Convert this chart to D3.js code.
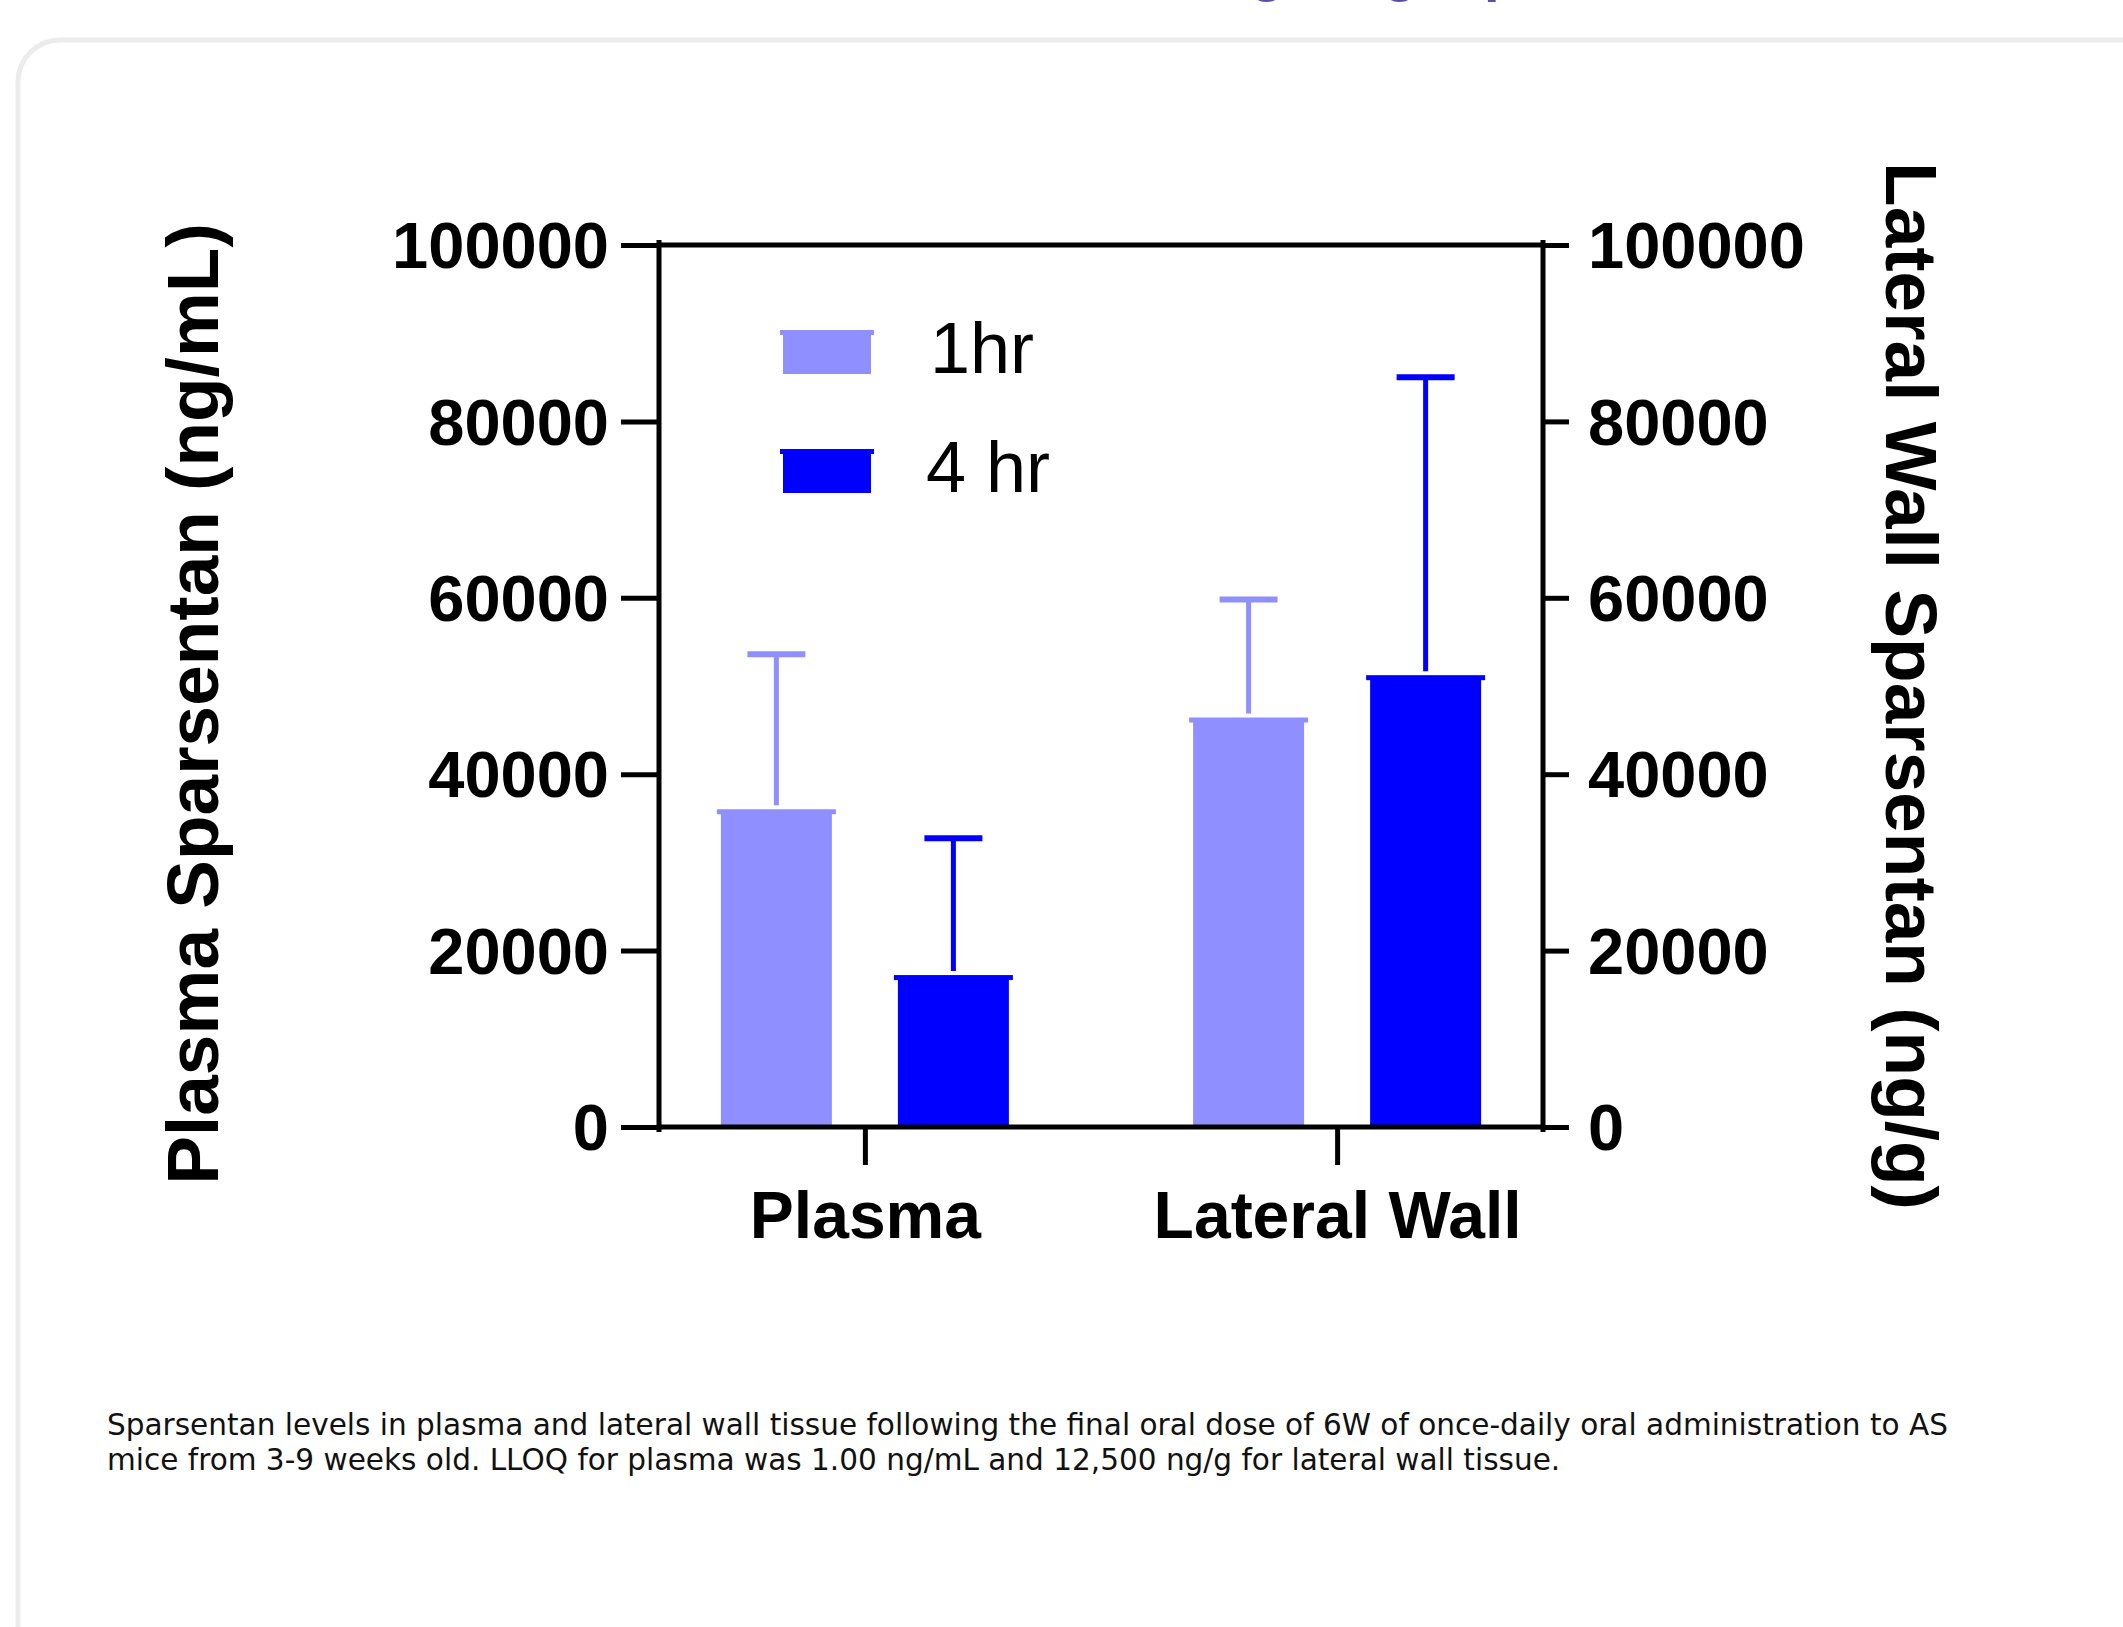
<!DOCTYPE html>
<html>
<head>
<meta charset="utf-8">
<script src="https://cdn.jsdelivr.net/npm/d3@7"></script>
<style>
  html, body { margin: 0; padding: 0; background: #fff; overflow: hidden; }
</style>
</head>
<body>
<div id="main"></div>
<script>
// values
const groups = ["Plasma", "Lateral Wall"];
const series = ["1hr", "4 hr"];
const colors = ["#8f8fff", "#0000ff"];
const mean1hr = [35800, 46200];
const mean4hr = [17000, 51000];
const err1hr = [17800, 13600];
const err4hr = [15750, 34000];
const yTicks = [0, 20000, 40000, 60000, 80000, 100000];
const caption = [
  "Sparsentan levels in plasma and lateral wall tissue following the final oral dose of 6W of once-daily oral administration to AS",
  "mice from 3-9 weeks old. LLOQ for plasma was 1.00 ng/mL and 12,500 ng/g for lateral wall tissue."
];

const ctx = { width: 2123, height: 1627 };
const FONT = "'Liberation Sans', Arial, Helvetica, sans-serif";

function createViz() {
  const svg = d3.select("#main").append("svg")
    .attr("width", ctx.width)
    .attr("height", ctx.height);

  // heading of the page, only its descenders show at the top edge
  const head = svg.append("g")
    .style("font-family", FONT).style("font-weight", "bold")
    .style("font-size", "56px").attr("fill", "#5a4ea6");
  head.append("text").attr("x", 1267).attr("y", -10).attr("text-anchor", "middle").text("g");
  head.append("text").attr("x", 1400).attr("y", -10).attr("text-anchor", "middle").text("g");
  head.append("text").attr("x", 1484).attr("y", -10).text("p");

  // card
  svg.append("rect")
    .attr("x", 18).attr("y", 40)
    .attr("width", 2300).attr("height", 1800)
    .attr("rx", 42)
    .attr("fill", "#fff")
    .attr("stroke", "#ececec")
    .attr("stroke-width", 5);

  const x0 = 659, x1 = 1543;
  const y = d3.scaleLinear().domain([0, 100000]).range([1127, 245]);
  const xg = d3.scalePoint().domain(groups).range([x0, x1]).padding(0.436);
  const xs = d3.scaleBand().domain(series).range([-144, 144]).paddingInner(0.373);

  const table = [];
  groups.forEach((g, i) => {
    table.push({ group: g, s: series[0], v: mean1hr[i], e: err1hr[i], c: colors[0] });
    table.push({ group: g, s: series[1], v: mean4hr[i], e: err4hr[i], c: colors[1] });
  });

  // bars
  const bars = svg.append("g");
  const bw = xs.bandwidth();
  table.forEach(d => {
    const bx = xg(d.group) + xs(d.s);
    bars.append("rect")
      .attr("x", bx).attr("y", y(d.v))
      .attr("width", bw).attr("height", y(0) - y(d.v))
      .attr("fill", d.c);
    bars.append("rect")
      .attr("x", bx - 4).attr("y", y(d.v) - 2)
      .attr("width", bw + 8).attr("height", 5)
      .attr("fill", d.c);
    // error bar (upper only)
    const cx = bx + bw / 2;
    bars.append("line")
      .attr("x1", cx).attr("x2", cx)
      .attr("y1", y(d.v) - 6).attr("y2", y(d.v + d.e))
      .attr("stroke", d.c).attr("stroke-width", 5);
    bars.append("line")
      .attr("x1", cx - 29).attr("x2", cx + 29)
      .attr("y1", y(d.v + d.e)).attr("y2", y(d.v + d.e))
      .attr("stroke", d.c).attr("stroke-width", 6);
  });

  // frame
  const frame = svg.append("g").attr("stroke", "#000").attr("stroke-width", 5);
  frame.append("line").attr("x1", x0).attr("x2", x0).attr("y1", y(100000) - 5).attr("y2", y(0) + 5);
  frame.append("line").attr("x1", x1).attr("x2", x1).attr("y1", y(100000) - 5).attr("y2", y(0) + 5);
  frame.append("line").attr("x1", x0).attr("x2", x1).attr("y1", y(100000)).attr("y2", y(100000));
  frame.append("line").attr("x1", x0).attr("x2", x1).attr("y1", y(0)).attr("y2", y(0));

  // left axis
  const left = svg.append("g")
    .attr("transform", `translate(${x0},0)`)
    .call(d3.axisLeft(y).tickValues(yTicks).tickFormat(d3.format("d")).tickSize(38).tickPadding(12));
  // right axis
  const right = svg.append("g")
    .attr("transform", `translate(${x1},0)`)
    .call(d3.axisRight(y).tickValues(yTicks).tickFormat(d3.format("d")).tickSize(26).tickPadding(19));
  // bottom axis
  const bottom = svg.append("g")
    .attr("transform", `translate(0,${y(0)})`)
    .call(d3.axisBottom(xg).tickSize(38).tickPadding(26));

  [left, right, bottom].forEach(a => {
    a.select(".domain").remove();
    a.selectAll(".tick line").attr("stroke", "#000").attr("stroke-width", 5);
    a.selectAll("text").attr("fill", "#000")
      .style("font-family", FONT).style("font-weight", "bold");
  });
  left.selectAll("text").style("font-size", "65px").attr("dy", "0.35em");
  right.selectAll("text").style("font-size", "65px").attr("dy", "0.35em");
  bottom.selectAll("text").style("font-size", "66px").attr("dy", "0.71em");

  // axis titles
  svg.append("text")
    .attr("transform", "translate(218,704) rotate(-90)")
    .attr("text-anchor", "middle")
    .style("font-family", FONT).style("font-weight", "bold").style("font-size", "73px")
    .text("Plasma Sparsentan (ng/mL)");
  svg.append("text")
    .attr("transform", "translate(1886,686) rotate(90)")
    .attr("text-anchor", "middle")
    .style("font-family", FONT).style("font-weight", "bold").style("font-size", "73px")
    .text("Lateral Wall Sparsentan (ng/g)");

  // legend
  const leg = svg.append("g");
  series.forEach((s, i) => {
    const ly = 332 + i * 119;
    leg.append("rect").attr("x", 783).attr("y", ly).attr("width", 88).attr("height", 42).attr("fill", colors[i]);
    leg.append("rect").attr("x", 780).attr("y", ly - 2).attr("width", 94).attr("height", 5).attr("fill", colors[i]);
    leg.append("text")
      .attr("x", i === 0 ? 930 : 926).attr("y", ly + 41)
      .style("font-family", FONT).style("font-size", "72px")
      .attr("fill", "#000")
      .text(s);
  });

  // caption
  const cap = svg.append("g")
    .style("font-family", "'DejaVu Sans', Verdana, sans-serif")
    .style("font-size", "27px")
    .attr("fill", "#111");
  const lines = caption.map((t, i) =>
    cap.append("text").attr("x", 107).attr("y", 1435 + i * 35).text(t));
  const w = lines[0].node().getComputedTextLength();
  const fs = 27 * 1842 / w;
  cap.style("font-size", fs + "px");
}

createViz();
</script>
</body>
</html>
